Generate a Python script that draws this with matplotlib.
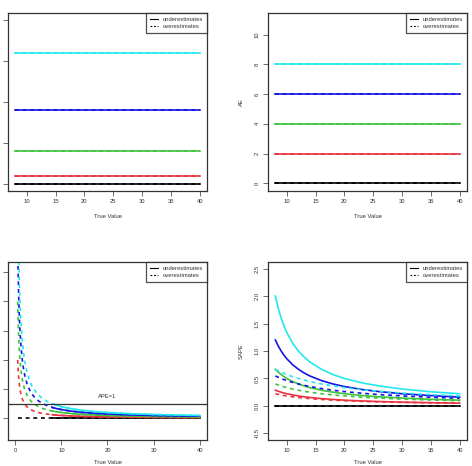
import matplotlib
matplotlib.use("Agg")
import matplotlib.pyplot as plt
from matplotlib.lines import Line2D

plt.rcParams['font.family'] = ['Liberation Sans', 'DejaVu Sans']

# ---------------- data ----------------
errors = [0, 2, 4, 6, 8]
colors = ["black", "#E8343F", "#3DC43D", "#1414E6", "#22E8EE"]
series_labels = ["underestimates", "overestimates"]

x_true = [8, 40]
se_values = [0, 4, 16, 36, 64]     # squared error (constant)
ae_values = [0, 2, 4, 6, 8]        # absolute error (constant)

# APE (bottom-left)
x_ape = [0.5, 0.6, 0.7, 0.8, 0.9, 1, 1.25, 1.5, 1.75, 2, 2.5, 3, 3.5, 4, 5, 6, 7,
         8, 9, 10, 12, 14, 16, 18, 20, 25, 30, 35, 40]
ape_e0 = [0.0] * 29
ape_e2 = [4.0, 3.333, 2.857, 2.5, 2.222, 2.0, 1.6, 1.333, 1.143, 1.0, 0.8, 0.667, 0.571, 0.5,
          0.4, 0.333, 0.286, 0.25, 0.222, 0.2, 0.167, 0.143, 0.125, 0.111, 0.1, 0.08, 0.067, 0.057, 0.05]
ape_e4 = [8.0, 6.667, 5.714, 5.0, 4.444, 4.0, 3.2, 2.667, 2.286, 2.0, 1.6, 1.333, 1.143, 1.0,
          0.8, 0.667, 0.571, 0.5, 0.444, 0.4, 0.333, 0.286, 0.25, 0.222, 0.2, 0.16, 0.133, 0.114, 0.1]
ape_e6 = [12.0, 10.0, 8.571, 7.5, 6.667, 6.0, 4.8, 4.0, 3.429, 3.0, 2.4, 2.0, 1.714, 1.5,
          1.2, 1.0, 0.857, 0.75, 0.667, 0.6, 0.5, 0.429, 0.375, 0.333, 0.3, 0.24, 0.2, 0.171, 0.15]
ape_e8 = [16.0, 13.333, 11.429, 10.0, 8.889, 8.0, 6.4, 5.333, 4.571, 4.0, 3.2, 2.667, 2.286, 2.0,
          1.6, 1.333, 1.143, 1.0, 0.889, 0.8, 0.667, 0.571, 0.5, 0.444, 0.4, 0.32, 0.267, 0.229, 0.2]
ape_all = [ape_e0, ape_e2, ape_e4, ape_e6, ape_e8]
ape_under_start = 8   # underestimates drawn from true value 8

# SAPE (bottom-right)
x_sape = [8, 8.5, 9, 9.5, 10, 11, 12, 13, 14, 16, 18, 20, 23, 26, 30, 35, 40]
sape_under_e0 = [0.0] * 17
sape_over_e0 = [0.0] * 17
sape_under_e2 = [0.286, 0.267, 0.25, 0.235, 0.222, 0.2, 0.182, 0.167, 0.154, 0.133, 0.118, 0.105, 0.091, 0.08, 0.069, 0.059, 0.051]
sape_over_e2 = [0.222, 0.211, 0.2, 0.19, 0.182, 0.167, 0.154, 0.143, 0.133, 0.118, 0.105, 0.095, 0.083, 0.074, 0.065, 0.056, 0.049]
sape_under_e4 = [0.667, 0.615, 0.571, 0.533, 0.5, 0.444, 0.4, 0.364, 0.333, 0.286, 0.25, 0.222, 0.19, 0.167, 0.143, 0.121, 0.105]
sape_over_e4 = [0.4, 0.381, 0.364, 0.348, 0.333, 0.308, 0.286, 0.267, 0.25, 0.222, 0.2, 0.182, 0.16, 0.143, 0.125, 0.108, 0.095]
sape_under_e6 = [1.2, 1.091, 1.0, 0.923, 0.857, 0.75, 0.667, 0.6, 0.545, 0.462, 0.4, 0.353, 0.3, 0.261, 0.222, 0.188, 0.162]
sape_over_e6 = [0.545, 0.522, 0.5, 0.48, 0.462, 0.429, 0.4, 0.375, 0.353, 0.316, 0.286, 0.261, 0.231, 0.207, 0.182, 0.158, 0.14]
sape_under_e8 = [2.0, 1.778, 1.6, 1.455, 1.333, 1.143, 1.0, 0.889, 0.8, 0.667, 0.571, 0.5, 0.421, 0.364, 0.308, 0.258, 0.222]
sape_over_e8 = [0.667, 0.64, 0.615, 0.593, 0.571, 0.533, 0.5, 0.471, 0.444, 0.4, 0.364, 0.333, 0.296, 0.267, 0.235, 0.205, 0.182]
sape_under = [sape_under_e0, sape_under_e2, sape_under_e4, sape_under_e6, sape_under_e8]
sape_over = [sape_over_e0, sape_over_e2, sape_over_e4, sape_over_e6, sape_over_e8]

ticks_tl_y = [0, 20, 40, 60, 80]
ticks_tr_y = [0, 2, 4, 6, 8, 10]
ticks_bl_y = [0, 2, 4, 6, 8, 10]
ticks_br_y = [-0.5, 0.0, 0.5, 1.0, 1.5, 2.0, 2.5]
ticks_x_top = [10, 15, 20, 25, 30, 35, 40]
ticks_x_bl = [0, 10, 20, 30, 40]

# ---------------- style ----------------
W, H = 472, 466
fig = plt.figure(figsize=(W / 100, H / 100), dpi=100)
FS = 4.2
LW = 1.2
DASH = (0, (2.3, 2.3))
SPINE = "#333333"
TXT = "#333333"


def make_ax(l, t, r, b):
    ax = fig.add_axes([l / W, 1 - b / H, (r - l) / W, (b - t) / H])
    for s in ax.spines.values():
        s.set_linewidth(0.9)
        s.set_color(SPINE)
    ax.tick_params(length=3.5, width=0.6, color="#555555", labelsize=FS,
                   labelcolor=TXT, pad=2.5)
    return ax


def finish(ax, xticks, yticks, ylabel=None, yfmt=None, show_ylabels=True, xpad=7):
    ax.set_xticks(xticks)
    ax.set_xticklabels([str(v) for v in xticks])
    ax.set_yticks(yticks)
    if show_ylabels:
        fmt = yfmt if yfmt else "{}"
        ax.set_yticklabels([fmt.format(v) for v in yticks], rotation=90, va="center")
    else:
        ax.set_yticklabels([])
    ax.set_xlabel("True Value", fontsize=FS, color=TXT, labelpad=xpad)
    if ylabel:
        ax.set_ylabel(ylabel, fontsize=FS, color=TXT, labelpad=8)
    handles = [Line2D([], [], color="black", lw=0.8, ls="-"),
               Line2D([], [], color="black", lw=0.8, ls=(0, (1.6, 1.6)))]
    leg = ax.legend(handles, series_labels, loc="upper right", fontsize=FS,
                    frameon=True, fancybox=False, borderaxespad=0.0,
                    handlelength=1.4, handletextpad=0.8, labelspacing=0.3,
                    borderpad=0.7)
    leg.get_frame().set_edgecolor("#222222")
    leg.get_frame().set_linewidth(0.9)
    for t in leg.get_texts():
        t.set_color(TXT)


# top-left: squared error (its y labels lie outside the picture in the reference)
ax1 = make_ax(8, 13, 207, 191)
for v, c in zip(se_values, colors):
    ax1.plot(x_true, [v, v], color=c, lw=LW, ls="-")
    ax1.plot(x_true, [v, v], color=c, lw=LW, ls=DASH)
ax1.set_xlim(6.72, 41.28)
ax1.set_ylim(-3.2, 83.2)
finish(ax1, ticks_x_top, ticks_tl_y, show_ylabels=False)

# top-right: absolute error
ax2 = make_ax(268, 13, 467, 191)
for v, c in zip(ae_values, colors):
    ax2.plot(x_true, [v, v], color=c, lw=LW, ls="-")
    ax2.plot(x_true, [v, v], color=c, lw=LW, ls=DASH)
ax2.set_xlim(6.72, 41.28)
ax2.set_ylim(-0.52, 11.45)
finish(ax2, ticks_x_top, ticks_tr_y, "AE")

# bottom-left: APE
ax3 = make_ax(8, 262, 207, 440)
for vals, c in zip(ape_all, colors):
    xs = [x for x in x_ape if x >= ape_under_start]
    ys = [y for x, y in zip(x_ape, vals) if x >= ape_under_start]
    ax3.plot(x_ape, vals, color=c, lw=LW, ls=DASH)
    ax3.plot(xs, ys, color=c, lw=LW, ls="-")
ax3.axhline(1, color="#333333", lw=0.9)
ax3.text(20, 1.5, "APE=1", fontsize=FS, color=TXT, ha="center", va="center")
ax3.set_xlim(-1.6, 41.6)
ax3.set_ylim(-1.48, 10.7)
finish(ax3, ticks_x_bl, ticks_bl_y, show_ylabels=False, xpad=5)

# bottom-right: SAPE
ax4 = make_ax(268, 262, 467, 440)
for u, o, c in zip(sape_under, sape_over, colors):
    ax4.plot(x_sape, u, color=c, lw=LW, ls="-")
    ax4.plot(x_sape, o, color=c, lw=LW, ls=DASH)
ax4.set_xlim(6.72, 41.28)
ax4.set_ylim(-0.62, 2.62)
finish(ax4, ticks_x_top, ticks_br_y, "SAPE", yfmt="{:.1f}", xpad=5)

fig.savefig("out.png", dpi=100)
